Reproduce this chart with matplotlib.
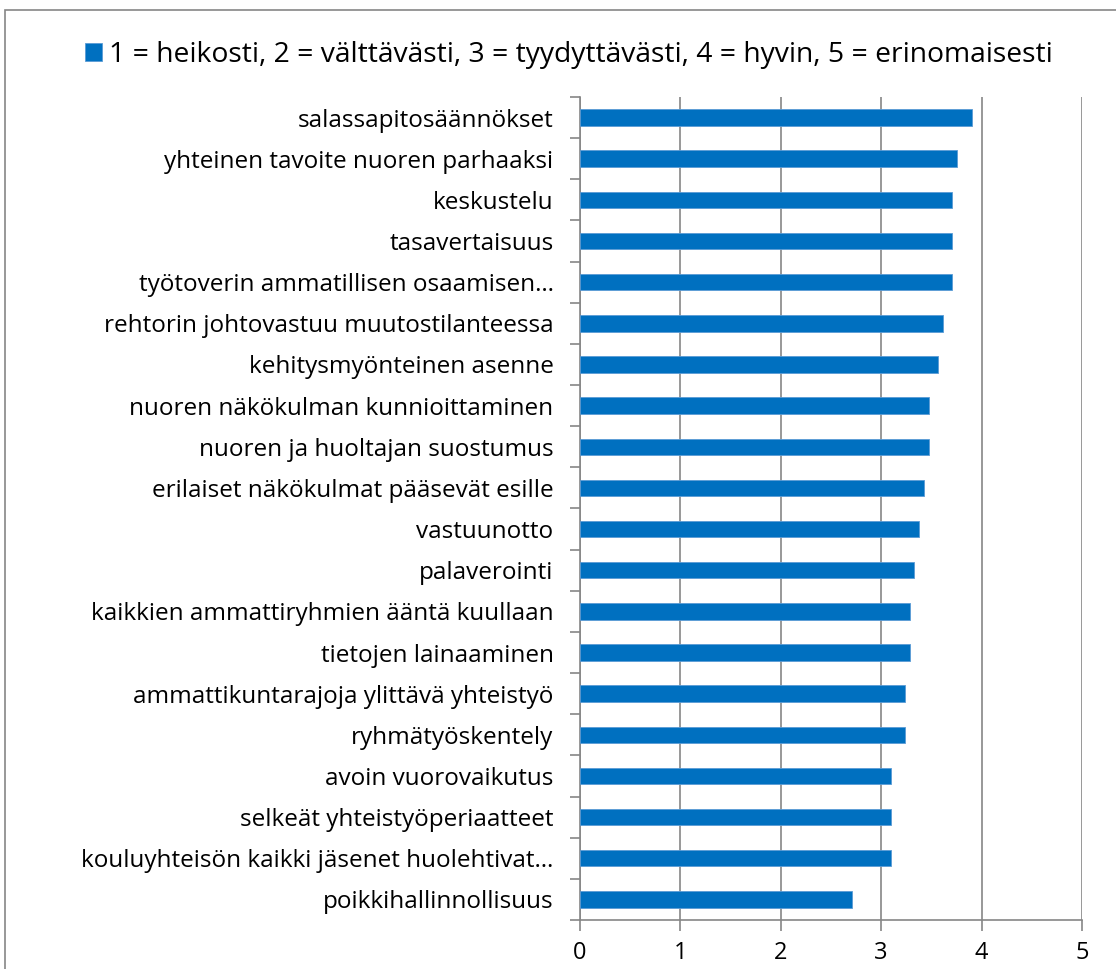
import numpy as np
import matplotlib.pyplot as plt
from matplotlib.patches import Rectangle

# categories, top to bottom as drawn
labels = ['salassapitosäännökset',
          'yhteinen tavoite nuoren parhaaksi',
          'keskustelu',
          'tasavertaisuus',
          'työtoverin ammatillisen osaamisen…',
          'rehtorin johtovastuu muutostilanteessa',
          'kehitysmyönteinen asenne',
          'nuoren näkökulman kunnioittaminen',
          'nuoren ja huoltajan suostumus',
          'erilaiset näkökulmat pääsevät esille',
          'vastuunotto',
          'palaverointi',
          'kaikkien ammattiryhmien ääntä kuullaan',
          'tietojen lainaaminen',
          'ammattikuntarajoja ylittävä yhteistyö',
          'ryhmätyöskentely',
          'avoin vuorovaikutus',
          'selkeät yhteistyöperiaatteet',
          'kouluyhteisön kaikki jäsenet huolehtivat…',
          'poikkihallinnollisuus']
values = [3.90, 3.76, 3.71, 3.71, 3.71, 3.62, 3.57, 3.48, 3.48, 3.43,
          3.38, 3.33, 3.29, 3.29, 3.24, 3.24, 3.10, 3.10, 3.10, 2.71]
series_name = '1 = heikosti, 2 = välttävästi, 3 = tyydyttävästi, 4 = hyvin, 5 = erinomaisesti'
xticks = [0, 1, 2, 3, 4, 5]

plt.rcParams['font.family'] = ['Open Sans', 'DejaVu Sans']
blue = '#0070C0'
grey = '#868686'

fig = plt.figure(figsize=(11.16, 9.69), dpi=100)
ax = fig.add_axes([0.5197, 0.0506, 0.4498, 0.8493])

n = len(labels)
y = np.arange(n)[::-1]
ax.barh(y, values, height=0.4, color=blue, edgecolor='#5B9BD5', linewidth=0.6,
        label=series_name, zorder=3)

ax.set_xlim(0, 5)
ax.set_ylim(-0.5, n - 0.5)
ax.set_xticks(xticks)
ax.set_xticklabels([str(t) for t in xticks], fontsize=17)
ax.set_yticks(y)
ax.set_yticklabels(labels, fontsize=17.5)
ax.tick_params(axis='y', length=0, pad=19)
ax.tick_params(axis='x', length=8, width=1.2, color=grey, pad=7)
# category boundary ticks on the value axis
ax.set_yticks(np.arange(n + 1) - 0.5, minor=True)
ax.tick_params(axis='y', which='minor', length=7, width=1.2, color=grey)

ax.grid(axis='x', color=grey, linewidth=1.2, zorder=0)
for s in ['top', 'right']:
    ax.spines[s].set_visible(False)
for s in ['left', 'bottom']:
    ax.spines[s].set_color(grey)
    ax.spines[s].set_linewidth(1.2)

fig.legend(loc='center', bbox_to_anchor=(0.51, 0.943), frameon=False,
           fontsize=20.3, handlelength=0.6, handleheight=0.6, handletextpad=0.25)

# outer chart frame
fig.patches.append(Rectangle((5 / 1116, -0.1), 1.2, (959 / 969) + 0.1,
                             transform=fig.transFigure, fill=False,
                             edgecolor=grey, linewidth=1.2))

fig.savefig('out.png', dpi=100)
